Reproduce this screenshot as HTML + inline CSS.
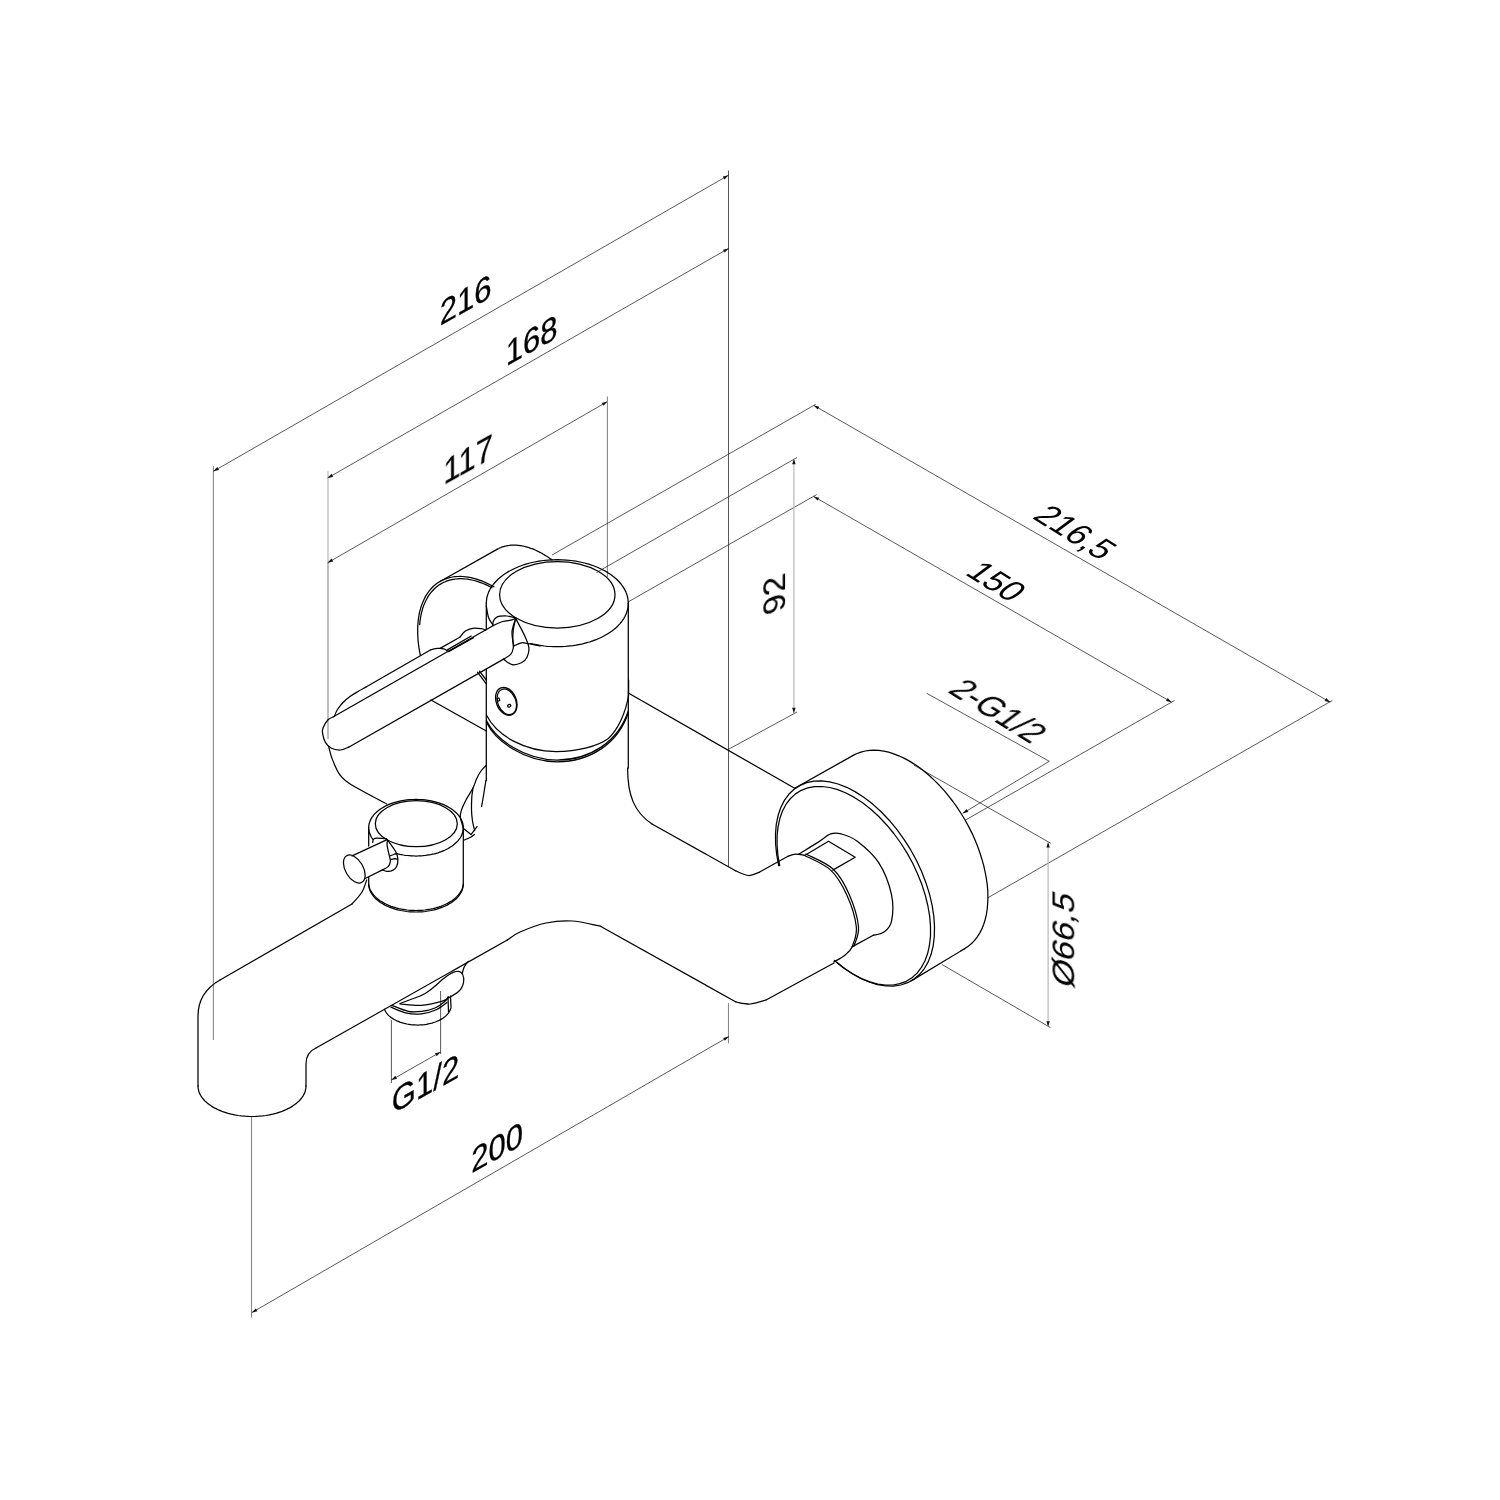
<!DOCTYPE html>
<html><head><meta charset="utf-8"><style>
html,body{margin:0;padding:0;background:#fff;}
svg{display:block;}
.o{fill:none;stroke:#000;stroke-width:1.25;stroke-linejoin:round;stroke-linecap:round;}
.d{fill:none;stroke:#222;stroke-width:0.75;}
.dl{fill:none;stroke:#b8b8b8;stroke-width:1.2;}
.dm{fill:none;stroke:#888;stroke-width:1.1;}
.ar{fill:#111;stroke:none;}
text{font-family:"Liberation Sans",sans-serif;fill:#000;}
text.sk{stroke:#000;stroke-width:0.3;}
.tx{opacity:0.995;will-change:transform;}
</style></head><body>
<svg width="1500" height="1500" viewBox="0 0 1500 1500">
<rect width="1500" height="1500" fill="#fff"/>
<polyline class="dm" points="213.4,466 213.4,1040"/>
<polyline class="d" points="728.5,170.5 728.5,867"/>
<polyline class="dm" points="728.5,1003 728.5,1043.4"/>
<polyline class="d" points="213.4,471.3 728.4,175.3"/>
<polygon class="ar" points="213.4,471.3 217.3,467.1 219,470"/>
<polygon class="ar" points="728.4,175.3 724.5,179.5 722.8,176.6"/>
<polyline class="dl" points="328,471.2 328,563"/>
<polyline class="dm" points="328,563 328,739"/>
<polyline class="d" points="327.6,478 728.6,248.4"/>
<polygon class="ar" points="327.6,478 331.5,473.8 333.2,476.7"/>
<polygon class="ar" points="728.6,248.4 724.7,252.6 723,249.7"/>
<polyline class="d" points="327.6,562.8 607.4,401.6"/>
<polygon class="ar" points="327.6,562.8 331.5,558.6 333.2,561.5"/>
<polygon class="ar" points="607.4,401.6 603.5,405.8 601.8,402.9"/>
<polyline class="dm" points="607.4,396.6 607.4,577"/>
<polyline class="d" points="552,555 815.6,404.4"/>
<polyline class="d" points="813.8,405.4 1330.2,702.2"/>
<polygon class="ar" points="813.8,405.4 819.4,406.7 817.7,409.6"/>
<polygon class="ar" points="1330.2,702.2 1324.6,700.9 1326.3,698"/>
<polyline class="d" points="1332.4,700.4 988,897.7"/>
<polyline class="d" points="628,602 816.6,494.6"/>
<polyline class="d" points="813.6,496.4 1171.6,702.2"/>
<polygon class="ar" points="813.6,496.4 819.2,497.7 817.5,500.6"/>
<polygon class="ar" points="1171.6,702.2 1166,700.9 1167.7,698"/>
<polyline class="d" points="1174.6,700.4 965.3,820.2"/>
<polyline class="d" points="596.5,572.5 797,457.5"/>
<polyline class="d" points="728.5,749.3 797,712"/>
<polyline class="dl" points="793.9,458.7 793.9,713.3"/>
<polygon class="ar" points="793.9,458.7 795.6,464.2 792.2,464.2"/>
<polygon class="ar" points="793.9,713.3 792.2,707.8 795.6,707.8"/>
<polyline class="d" points="926.7,693.3 1049.3,761.3 962.7,813.3"/>
<polygon class="ar" points="962.7,813.3 966.5,809 968.3,811.9"/>
<polyline class="d" points="914,765.2 1050.8,843.3"/>
<polyline class="d" points="941.8,964.4 1050.3,1027.5"/>
<polyline class="dl" points="1048.1,842 1048.1,1026.7"/>
<polygon class="ar" points="1048.1,842 1049.8,847.5 1046.4,847.5"/>
<polygon class="ar" points="1048.1,1026.7 1046.4,1021.2 1049.8,1021.2"/>
<polyline class="dm" points="251.5,1117 251.5,1317.6"/>
<polyline class="d" points="251.8,1312.6 728.8,1036.6"/>
<polygon class="ar" points="251.8,1312.6 255.7,1308.4 257.4,1311.3"/>
<polygon class="ar" points="728.8,1036.6 724.9,1040.8 723.2,1037.9"/>
<polyline class="d" points="391.4,1020 391.4,1083"/>
<polyline class="d" points="440.6,991 440.6,1054"/>
<polyline class="d" points="391.4,1080 440.6,1052"/>
<polygon class="ar" points="391.4,1080 395.3,1075.8 397,1078.8"/>
<polygon class="ar" points="440.6,1052 436.7,1056.2 435,1053.2"/>
<g class="tx">
<text class="sk" transform="matrix(0.9 -0.5 0 1 465.6 311.5)" font-size="34.5" text-anchor="middle">216</text>
<text class="sk" transform="matrix(0.9 -0.5 0 1 531.7 352)" font-size="34.5" text-anchor="middle">168</text>
<text class="sk" transform="matrix(0.9 -0.5 0 1 468.1 471.3)" font-size="34.5" text-anchor="middle">117</text>
<text class="sk" transform="matrix(0.9 -0.5 0 1 497.2 1159.1)" font-size="34.5" text-anchor="middle">200</text>
<text class="sk" transform="matrix(0.9 -0.5 0 1 425.5 1095.5)" font-size="34.5" text-anchor="middle">G1/2</text>
<text transform="matrix(0.8 0.5 -0.8 0.6 987 588.5)" font-size="34.5" text-anchor="middle">150</text>
<text transform="matrix(0.8 0.5 -0.8 0.6 1065.8 539.2)" font-size="34.5" text-anchor="middle">216,5</text>
<text transform="matrix(0.8 0.5 -0.8 0.6 988.8 718)" font-size="34.5" text-anchor="middle">2-G1/2</text>
<text transform="matrix(0 -1 0.9 -0.3 785.5 590.8)" font-size="34.5" text-anchor="middle">92</text>
<text transform="matrix(0 -1 0.9 0.3 1074.7 942.8)" font-size="34.5" text-anchor="middle">&#216;66,5</text>
</g>
<polyline class="o" points="486.3,603.2 486.5,600.4 486.9,597.5 487.7,594.7 488.7,591.9 490.1,589.2 491.7,586.6 493.6,584 495.8,581.5 498.3,579 501,576.7 503.9,574.5 507.1,572.4 510.5,570.5 514.1,568.7 517.9,567 521.8,565.5 525.9,564.2 530.1,563 534.5,562 538.9,561.2 543.4,560.5 548,560.1 552.7,559.8 557.3,559.7 561.9,559.8 566.6,560.1 571.2,560.5 575.7,561.2 580.1,562 584.5,563 588.7,564.2 592.8,565.5 596.7,567 600.5,568.7 604.1,570.5 607.5,572.4 610.7,574.5 613.6,576.7 616.3,579 618.8,581.5 621,584 622.9,586.6 624.5,589.2 625.9,591.9 626.9,594.7 627.7,597.5 628.1,600.4 628.3,603.2"/>
<polyline class="o" points="628.3,603.2 628.2,605 628.1,606.7 627.8,608.5 627.4,610.3 626.8,612 626.2,613.7 625.4,615.4 624.6,617.1 623.6,618.8 622.5,620.4 621.3,622 620,623.6 618.6,625.2 617.1,626.7 615.5,628.2 613.8,629.6 612,631 610.1,632.3 608.1,633.6 606,634.8 603.9,636 601.7,637.2 599.4,638.2 597,639.3 594.6,640.2 592.1,641.1 589.5,642 586.9,642.7 584.3,643.4 581.6,644.1 578.8,644.6 576.1,645.2 573.3,645.6 570.4,645.9 567.6,646.2 564.7,646.5 561.8,646.6 559,646.7 556.1,646.7 553.2,646.6 550.3,646.5 547.4,646.3 544.6,646 541.7,645.6 538.9,645.2 536.1,644.7 533.4,644.2 530.7,643.5"/>
<ellipse class="o" cx="557.3" cy="594.8" rx="57.7" ry="33.2" transform="rotate(0 557.3 594.8)"/>
<polyline class="o" points="486.3,603 486.3,628.6"/>
<polyline class="o" points="628.3,603 628.3,768"/>
<polyline class="o" points="486.3,669.3 486.3,780.5"/>
<path class="o" d="M486.4,715 C497,736 525,751.5 556,751.5 C578,751.5 598,746 608,738.7 C618,730 626,712 628.6,695 L628.6,680"/>
<path class="o" d="M486.4,720.5 C496,740 525,760 557,760 C590,760 618,742 628.3,711"/>
<path class="o" d="M486.4,722.2 C496,741.7 525,761.8 557,761.8 C590,761.8 618,743.7 628.3,712.7"/>
<path class="o" d="M515.5,618.1 C517.1,621.2 522.9,631.7 525.1,636.7 C527.3,641.7 528.6,644.5 528.9,647.9 C529.2,651.3 528.2,654.7 527,657.2 C525.8,659.7 523.9,661.5 521.4,662.8 C518.9,664 515,665.3 512,664.7 C509,664.1 505,660 503.6,659.1"/>
<path class="o" d="M515.8,618 C515.2,620.3 512.3,627.3 512,632 C511.7,636.7 513.6,643.7 513.9,646"/>
<path class="o" d="M513.9,646 C515.1,645.5 519.1,643.2 521.4,642.8 C523.7,642.4 524.8,643.2 527.9,643.7 C531,644.2 538,645.6 540,646"/>
<path class="o" d="M492.8,625.5 C492.9,624.7 492.8,622.2 493.4,620.9 C494,619.6 495.2,618.3 496.3,617.5 C497.4,616.7 498.2,616.5 500,616.2 C501.8,616 504.4,615.7 507,616 C509.6,616.3 514.3,617.7 515.8,618"/>
<path class="o" d="M486.3,605.9 C486.7,607.9 487.5,614.7 488.7,618 C489.9,621.3 492.6,624.2 493.4,625.5"/>
<polyline class="o" points="333.4,716.8 493.4,625.5"/>
<path class="o" d="M493.4,625.5 C494.9,624.8 499.6,622.4 502.7,621.5 C505.8,620.6 509.8,620.5 512,619.9 C514.2,619.3 515.2,618.3 515.8,618"/>
<path class="o" d="M334.2,716.5 C334.8,715.3 336,711.8 337.5,709.5 C339,707.2 340.9,704.7 343,702.5 C345.1,700.3 347.5,698.3 350,696.5 C352.5,694.7 355.3,693.1 358,691.5 C360.7,689.9 364.7,687.8 366,687"/>
<polyline class="o" points="366,687 430.8,649.8"/>
<path class="o" d="M430.8,649.8 C431.9,649.6 435.1,648.6 437.3,648.4 C439.5,648.2 442.2,648.3 443.9,648.8 C445.6,649.3 447,650.8 447.6,651.2"/>
<polyline class="o" points="440.1,648.4 459.8,637.2"/>
<path class="o" d="M459.8,637.2 C460.7,636.2 463.2,632.6 465.4,631.1 C467.6,629.6 470.2,628.7 472.8,628.3 C475.4,627.9 479,628.4 481.2,628.7 C483.4,629 485.1,629.9 485.9,630.1"/>
<polyline class="o" points="447.3,649.9 471.2,636"/>
<polyline class="o" points="448.6,651.6 473.5,637.8"/>
<path class="o" d="M333.4,716.8 C332.5,717.3 329.5,718.1 327.8,720 C326.1,721.9 323.9,725.7 323,728 C322.1,730.3 322.2,731.2 322.6,733.6 C323,736 324,740 325.4,742.4 C326.8,744.8 328.5,746.7 331,748 C333.5,749.3 337.7,750.1 340.6,750 C343.5,749.9 347.3,747.7 348.6,747.2"/>
<polyline class="o" points="348.6,747.2 503.6,659.1"/>
<path class="o" d="M503.6,659.1 C504.8,658.3 509.1,656.2 510.7,654.4 C512.3,652.5 512.9,650.3 513.3,648 C513.6,645.7 512.8,643.5 512.8,640.5 C512.8,637.5 512.8,633.4 513.3,629.9 C513.8,626.4 515.1,621 515.5,619.2"/>
<polyline class="o" points="477.5,672.2 485.9,683.4"/>
<polyline class="o" points="479.5,671.2 486.3,680"/>
<polyline class="o" points="420.3,655.2 419.6,651.5 419,647.9 418.5,644.3 418.1,640.8 417.9,637.2 417.7,633.8 417.7,630.4 417.7,627.1 417.9,623.8 418.2,620.7 418.6,617.6 419.1,614.5 419.7,611.6 420.5,608.8 421.3,606 422.3,603.4 423.3,600.9 424.5,598.4 425.7,596.1 427.1,593.9 428.5,591.8 430.1,589.9 431.7,588 433.4,586.3 435.2,584.8 437.1,583.3 439.1,582 441.2,580.8 443.3,579.8 445.5,578.9 447.8,578.1 450.2,577.5 452.6,577 455.1,576.7 457.6,576.5 460.2,576.4 462.8,576.5 465.5,576.8 468.3,577.1 471,577.7 473.8,578.3 476.6,579.1 479.5,580.1 482.4,581.2 485.2,582.4 488.1,583.7 491.1,585.2 494,586.8"/>
<polyline class="o" points="419.7,624.6 419.9,622.1 420.2,619.7 420.6,617.3 421,615 421.5,612.8 422.1,610.6 422.7,608.4 423.4,606.3 424.2,604.3 425,602.4 425.9,600.5 426.9,598.7 427.9,596.9 429,595.2 430.1,593.6 431.3,592.1 432.6,590.7 433.9,589.3 435.3,588 436.7,586.8 438.2,585.6 439.7,584.6 441.3,583.6 442.9,582.7 444.6,582 446.3,581.2 448,580.6 449.8,580.1 451.7,579.6 453.6,579.3 455.5,579 457.5,578.8 459.4,578.7 461.5,578.7 463.5,578.8 465.6,579 467.7,579.2 469.8,579.6 472,580 474.2,580.5 476.4,581.1 478.6,581.8 480.8,582.6 483,583.5 485.3,584.4 487.5,585.4 489.8,586.6 492,587.8"/>
<polyline class="o" points="440,581.5 497,549.4"/>
<polyline class="o" points="497,549.4 497.9,548.9 498.8,548.5 499.7,548 500.7,547.6 501.6,547.2 502.6,546.9 503.6,546.6 504.6,546.3 505.6,546 506.7,545.8 507.7,545.6 508.8,545.5 509.8,545.3 510.9,545.2 512,545.2 513.1,545.1 514.2,545.1 515.4,545.1 516.5,545.2 517.7,545.3 518.8,545.4 520,545.6 521.2,545.7 522.4,546 523.5,546.2 524.7,546.5 526,546.8 527.2,547.1 528.4,547.5 529.6,547.9 530.8,548.3 532.1,548.7 533.3,549.2 534.5,549.7 535.8,550.3 537,550.9 538.3,551.5 539.5,552.1 540.8,552.8 542,553.4 543.3,554.2 544.6,554.9 545.8,555.7 547.1,556.5 548.3,557.3 549.6,558.2 550.8,559 552,559.9"/>
<ellipse class="o" cx="506.3" cy="701.3" rx="10" ry="14.5" transform="rotate(-22 506.3 701.3)"/>
<ellipse class="o" cx="506.8" cy="701.8" rx="9" ry="13.3" transform="rotate(-22 506.8 701.8)"/>
<ellipse class="o" cx="498.4" cy="699.5" rx="1.2" ry="1.6" transform="rotate(-20 498.4 699.5)"/>
<ellipse class="o" cx="509.2" cy="705.8" rx="1.6" ry="1.3" transform="rotate(-20 509.2 705.8)"/>
<path class="o" d="M328.6,746.4 C329.3,748.7 330.7,755.2 332.6,760 C334.5,764.8 336.9,770.9 340,775 C343.1,779.1 343.5,780 351.3,784.8 C359.1,789.6 380.8,800.8 386.7,804"/>
<polyline class="o" points="431,700 486.3,731"/>
<path class="o" d="M486,765.5 C485.2,766.4 482.6,768.8 481,771 C479.4,773.2 477.8,776.2 476.5,779 C475.2,781.8 474.8,784.5 473,788 C471.2,791.5 467.9,796.3 466,800 C464.1,803.7 462.4,807.2 461.5,810 C460.6,812.8 460,813.9 460.3,817 C460.6,820.1 463,826.6 463.5,828.5"/>
<path class="o" d="M473,788 C472.8,789.5 472.1,793.3 471.8,797 C471.6,800.7 471.4,806 471.5,810 C471.6,814 472,817.5 472.5,821 C473,824.5 474.3,829.1 474.7,830.7"/>
<path class="o" d="M485.9,780.5 C485.5,782.9 484.3,790.6 483.6,795 C482.9,799.4 481.9,804.8 481.6,806.7"/>
<polyline class="o" points="463.5,828.5 471,834.5 477,826.5"/>
<path class="o" d="M464.5,840 C465.6,839.5 469.3,837.9 471,837 C472.7,836.1 473.9,834.9 474.5,834.5"/>
<polyline class="o" points="368.7,827.7 368.8,825.8 369.1,824 369.6,822.2 370.3,820.4 371.2,818.6 372.3,816.9 373.6,815.2 375,813.6 376.7,812 378.5,810.5 380.4,809 382.6,807.7 384.8,806.4 387.2,805.2 389.7,804.2 392.3,803.2 395.1,802.3 397.9,801.6 400.8,800.9 403.8,800.4 406.8,799.9 409.8,799.6 412.9,799.5 416,799.4 419.1,799.5 422.2,799.6 425.2,799.9 428.2,800.4 431.2,800.9 434.1,801.6 436.9,802.3 439.6,803.2 442.3,804.2 444.8,805.2 447.2,806.4 449.4,807.7 451.6,809 453.5,810.5 455.3,812 457,813.6 458.4,815.2 459.7,816.9 460.8,818.6 461.7,820.4 462.4,822.2 462.9,824 463.2,825.8 463.3,827.7"/>
<polyline class="o" points="463.3,827.7 463.3,828.9 463.1,830.1 462.9,831.2 462.6,832.4 462.3,833.6 461.8,834.7 461.3,835.9 460.7,837 460,838.1 459.2,839.2 458.4,840.3 457.5,841.3 456.5,842.3 455.4,843.3 454.3,844.3 453.1,845.3 451.8,846.2 450.5,847 449.1,847.9 447.7,848.7 446.2,849.5 444.7,850.2 443.1,850.9 441.4,851.6 439.7,852.2 438,852.8 436.2,853.3 434.4,853.8 432.6,854.2 430.7,854.6 428.8,854.9 426.9,855.2 425,855.5 423,855.7 421.1,855.8 419.1,855.9 417.1,856 415.1,856 413.2,855.9 411.2,855.9 409.2,855.7 407.3,855.5 405.3,855.3 403.4,855 401.5,854.6 399.7,854.3 397.8,853.8 396,853.3"/>
<polyline class="o" points="373.1,839.7 373,839.4 372.8,839.2 372.6,839 372.4,838.7 372.3,838.5 372.1,838.2 371.9,838 371.8,837.8 371.6,837.5 371.5,837.3 371.4,837 371.2,836.8 371.1,836.6 370.9,836.3 370.8,836.1 370.7,835.8 370.6,835.6 370.4,835.3 370.3,835.1 370.2,834.8 370.1,834.6 370,834.3 369.9,834.1 369.8,833.8 369.7,833.6 369.6,833.3 369.6,833.1 369.5,832.8 369.4,832.6 369.3,832.3 369.3,832.1 369.2,831.8 369.1,831.5 369.1,831.3 369,831 369,830.8 368.9,830.5 368.9,830.3 368.9,830 368.8,829.8 368.8,829.5 368.8,829.2 368.7,829 368.7,828.7 368.7,828.5 368.7,828.2 368.7,828 368.7,827.7"/>
<ellipse class="o" cx="416.3" cy="823.7" rx="41" ry="23" transform="rotate(0 416.3 823.7)"/>
<polyline class="o" points="368.7,829 368.7,846"/>
<polyline class="o" points="463.3,828 463.3,884"/>
<polyline class="o" points="368.7,877 368.7,884"/>
<polyline class="o" points="463.3,884 463.2,885.8 462.9,887.7 462.4,889.5 461.7,891.2 460.8,893 459.7,894.7 458.4,896.4 457,898 455.3,899.6 453.5,901 451.6,902.5 449.4,903.8 447.2,905.1 444.8,906.2 442.3,907.3 439.6,908.2 436.9,909.1 434.1,909.9 431.2,910.5 428.2,911 425.2,911.5 422.2,911.8 419.1,911.9 416,912 412.9,911.9 409.8,911.8 406.8,911.5 403.8,911 400.8,910.5 397.9,909.9 395.1,909.1 392.4,908.2 389.7,907.3 387.2,906.2 384.8,905.1 382.6,903.8 380.4,902.5 378.5,901 376.7,899.6 375,898 373.6,896.4 372.3,894.7 371.2,893 370.3,891.2 369.6,889.5 369.1,887.7 368.8,885.8 368.7,884"/>
<polyline class="o" points="463.1,884.9 462.8,886.7 462.3,888.4 461.6,890 460.7,891.7 459.6,893.3 458.4,894.9 457,896.4 455.5,897.9 453.8,899.3 452,900.7 450,901.9 448,903.1 445.7,904.3 443.4,905.3 441,906.3 438.4,907.1 435.8,907.9 433.1,908.6 430.4,909.2 427.6,909.6 424.7,910 421.8,910.3 418.9,910.4 416,910.5 413.1,910.4 410.2,910.3 407.3,910 404.4,909.6 401.6,909.2 398.9,908.6 396.2,907.9 393.6,907.1 391,906.3 388.6,905.3 386.3,904.3 384,903.1 382,901.9 380,900.7 378.2,899.3 376.5,897.9 375,896.4 373.6,894.9 372.4,893.3 371.3,891.7 370.4,890 369.7,888.4 369.2,886.7 368.9,884.9"/>
<ellipse class="o" cx="354.3" cy="869" rx="15.3" ry="8.9" transform="rotate(60 354.3 869)"/>
<polyline class="o" points="352.1,855.9 387.1,839.6"/>
<polyline class="o" points="365.7,878.3 382.5,869.9"/>
<path class="o" d="M382.5,869.9 C383.4,869.4 386.8,868.2 388.1,866.7 C389.4,865.2 390.2,862.8 390.4,861.1 C390.6,859.4 390.1,859 389.5,856.4 C388.9,853.8 387.4,847.9 387.1,845.2 C386.8,842.5 387.5,841 387.6,840.1"/>
<path class="o" d="M387.6,840.1 C389,842.1 394.3,848.9 396,852.2 C397.7,855.5 397.8,857.3 397.9,859.7 C398,862.1 397.4,864.9 396.5,866.7 C395.6,868.5 394.3,869.6 392.7,870.4 C391.1,871.2 388.4,871.4 386.7,871.3 C385,871.2 383.2,870.1 382.5,869.9"/>
<path class="o" d="M389.5,855.9 C390.2,855.7 392.5,854.9 393.7,854.5 C394.9,854.1 396.4,853.8 396.9,853.6"/>
<path class="o" d="M390.4,859.7 C391.2,859.5 393.9,858.8 395.1,858.7 C396.3,858.7 397,859.3 397.4,859.4"/>
<path class="o" d="M372.7,842.4 C372.9,841.9 372.8,839.8 373.6,839.1 C374.4,838.4 375.1,838.3 377.3,838.2 C379.5,838.1 385.1,838.6 386.7,838.7"/>
<path class="o" d="M366.7,880 C365.9,882 364.4,888 362,892 C359.6,896 353.7,902 352,904"/>
<polyline class="o" points="352,904 220,980"/>
<path class="o" d="M220,980 C206,988 198,1000 198,1016 L198,1086"/>
<polyline class="o" points="306,1086 305.9,1088 305.5,1090 305,1092 304.2,1093.9 303.1,1095.8 301.9,1097.7 300.4,1099.5 298.8,1101.2 296.9,1102.9 294.8,1104.6 292.6,1106.1 290.2,1107.6 287.6,1108.9 284.9,1110.2 282,1111.4 279,1112.4 275.9,1113.4 272.7,1114.2 269.4,1114.9 266,1115.5 262.5,1115.9 259,1116.2 255.5,1116.4 252,1116.5 248.5,1116.4 245,1116.2 241.5,1115.9 238,1115.5 234.6,1114.9 231.3,1114.2 228.1,1113.4 225,1112.4 222,1111.4 219.1,1110.2 216.4,1108.9 213.8,1107.6 211.4,1106.1 209.2,1104.6 207.1,1102.9 205.2,1101.2 203.6,1099.5 202.1,1097.7 200.9,1095.8 199.8,1093.9 199,1092 198.5,1090 198.1,1088 198,1086"/>
<path class="o" d="M306,1086 L306,1064 C306,1056 309,1051 316,1048"/>
<polyline class="o" points="316,1048 507.3,940"/>
<path class="o" d="M507.3,940 C509.4,938.7 513.5,934.8 520,932 C526.5,929.2 537.3,924.8 546,923 C554.7,921.2 563,920.5 572,921 C581,921.5 595.3,925.2 600,926"/>
<polyline class="o" points="600,926 736,1002"/>
<path class="o" d="M736,1002 C738.3,1002.3 745,1004.3 750,1004 C755,1003.7 763.3,1000.7 766,1000"/>
<polyline class="o" points="766,1000 834,963"/>
<polyline class="o" points="451,1007.8 450.6,1008.9 450.2,1010.1 449.6,1011.2 449,1012.3 448.2,1013.3 447.3,1014.4 446.4,1015.4 445.3,1016.4 444.1,1017.3 442.9,1018.2 441.5,1019.1 440.1,1019.9 438.6,1020.6 437,1021.3 435.4,1022 433.7,1022.5 432,1023.1 430.2,1023.5 428.3,1023.9 426.4,1024.3 424.5,1024.6 422.6,1024.8 420.6,1024.9 418.7,1025 416.7,1025 414.8,1024.9 412.8,1024.8 410.9,1024.6 408.9,1024.3 407.1,1024 405.2,1023.6 403.4,1023.2 401.6,1022.7 399.9,1022.1 398.3,1021.4 396.7,1020.8 395.2,1020 393.7,1019.2 392.4,1018.4 391.1,1017.5 389.9,1016.6 388.8,1015.6 387.8,1014.6 387,1013.6 386.2,1012.5 385.5,1011.4 384.9,1010.3 384.4,1009.2"/>
<polyline class="o" points="448,997 448.5,1012"/>
<polyline class="o" points="450.5,996 451,1007"/>
<path class="o" d="M391.7,1005.3 C394.5,1006.3 403.3,1010.3 408.3,1011.3 C413.3,1012.3 417.2,1011.8 421.7,1011.3 C426.1,1010.8 431,1009.8 435,1008 C439,1006.2 443.5,1002.6 445.7,1000.7 C447.9,998.8 447.9,997.4 448.3,996.7"/>
<path class="o" d="M391,1007.2 C393.7,1008.2 401.9,1012.1 407,1013.2 C412.1,1014.3 416.8,1014.4 421.7,1013.8 C426.6,1013.2 432.1,1011.7 436.3,1009.8 C440.5,1007.9 445.2,1003.7 447,1002.5"/>
<path class="o" d="M400,1003.5 C402,1002.8 408.1,1000.5 412,999 C415.9,997.5 419.8,996.4 423.3,994.5 C426.9,992.6 430,990.1 433.3,987.5 C436.6,984.9 440.2,981.2 443,979 C445.8,976.8 447.8,975.2 450,974 C452.2,972.8 454.2,971.8 456,971.5 C457.8,971.2 459.7,971.2 461,972.3 C462.3,973.4 463.4,975.7 463.7,978 C463.9,980.3 463.4,983.7 462.5,986 C461.6,988.3 460.4,990 458,992 C455.6,994 451,996.5 448.3,998 C445.6,999.5 446.1,1000.1 441.7,1001.3 C437.3,1002.5 428.6,1004.8 421.7,1005.3 C414.8,1005.8 403.6,1004.2 400,1004"/>
<path class="o" d="M462.3,973.3 C462.6,972.2 463.3,968.7 464.3,966.7 C465.3,964.7 467.6,962.2 468.3,961.3"/>
<polyline class="o" points="628.3,693 794.7,788.3"/>
<path class="o" d="M627.6,768 C627.6,795 634,812 652,824"/>
<polyline class="o" points="652,824 736,871"/>
<path class="o" d="M736,871 C738.1,871.8 744.6,875.3 748.5,875.5 C752.4,875.7 757.4,872.8 759.2,872.3"/>
<polyline class="o" points="759.2,872.3 788,856.3"/>
<path class="o" d="M788,856.3 C789.2,855.9 792.8,854.3 795.5,854.1 C798.2,853.9 802.6,855 804,855.2"/>
<path class="o" d="M804,855.2 C808.5,857.7 823.6,863.5 830.7,870.1 C837.8,876.7 842.4,885.3 846.7,894.7 C851,904.1 855.4,918 856.3,926.7 C857.2,935.4 854,942.1 852,946.9 C850,951.7 847.5,953 844.5,955.5 C841.5,958 835.7,960.8 833.9,961.9"/>
<path class="o" d="M806,854 C810.5,856.5 825.8,862.3 833,869 C840.2,875.7 844.8,884.4 849,894 C853.2,903.6 857.7,918 858.5,926.7 C859.3,935.4 854.8,942.8 854,946"/>
<path class="o" d="M798.7,854.1 C801.9,852.1 812.6,845.8 817.9,842.4 C823.2,839 826.8,835.3 830.7,833.9 C834.6,832.5 836.9,832.7 841.3,833.9 C845.7,835.1 851.1,836.5 857.3,841.3 C863.5,846.1 873,853.8 878.7,862.7 C884.4,871.6 889.4,884.9 891.5,894.7 C893.6,904.5 892.8,915.1 891.5,921.3 C890.2,927.5 887,929.7 884,932 C881,934.3 875.1,934.7 873.3,935.2"/>
<polyline class="o" points="873.3,935.2 852,946.9"/>
<polyline class="o" points="805.1,855.2 828.5,841.3 855.2,857.3 832.8,870.1"/>
<polyline class="o" points="778.7,865.6 776.7,854.6 775.6,844 775.5,833.9 776.3,824.3 778.1,815.5 780.8,807.5 784.4,800.4 788.8,794.3 794.1,789.3 800.1,785.4 806.7,782.6 813.9,781.1 821.6,780.8 829.7,781.8 838.1,784 846.7,787.3 855.4,791.9 864.1,797.5 872.7,804.1 881.1,811.7 889.2,820.2 896.8,829.4 904,839.3 910.6,849.7 916.5,860.5 921.6,871.6 926,882.9 929.5,894.1 932.1,905.2 933.8,916.1 934.5,926.5 934.3,936.5 933.2,945.8 931.1,954.3 928.1,962.1 924.2,968.8 919.4,974.6 913.9,979.2 907.7,982.7 900.9,985 893.5,986.1 885.7,986 877.4,984.6 869,982 860.3,978.2 851.6,973.3 842.9,967.4 834.4,960.4"/>
<polyline class="o" points="779.7,865.7 777.9,855.3 777.1,845.2 777.1,835.6 778.1,826.6 779.9,818.3 782.6,810.8 786.1,804.2 790.5,798.5 795.5,793.9 801.3,790.3 807.7,787.9 814.6,786.6 822,786.5 829.7,787.5 837.7,789.7 846,793 854.3,797.4 862.6,802.8 870.8,809.2 878.8,816.5 886.5,824.7 893.8,833.5 900.7,843 907,852.9 912.7,863.2 917.6,873.9 921.9,884.6 925.3,895.4 927.9,906 929.7,916.4 930.5,926.5 930.5,936 929.5,945 927.7,953.3 925,960.8 921.4,967.4 917.1,973.1 912,977.7 906.3,981.3 899.9,983.7 893,985 885.6,985.1 877.8,984.1 869.8,981.9 861.6,978.6 853.3,974.2 845,968.7 836.8,962.3"/>
<polyline class="o" points="794.7,788.3 853.2,755.4"/>
<polyline class="o" points="853.2,755.4 857,753.5 861,752.1 865.2,751 869.6,750.4 874.2,750.2 878.9,750.4 883.7,751.1 888.6,752.2 893.7,753.8 898.8,755.8 903.9,758.1 909.1,760.9 914.2,764.1 919.4,767.6 924.5,771.5 929.5,775.8 934.4,780.4 939.3,785.3 944,790.4 948.5,795.9 952.9,801.5 957.1,807.4 961.1,813.5 964.9,819.8 968.4,826.1 971.7,832.6 974.7,839.2 977.4,845.8 979.8,852.5 981.9,859.2 983.8,865.8 985.2,872.4 986.4,878.8 987.3,885.2 987.8,891.4 987.9,897.5 987.7,903.3 987.2,909 986.4,914.4 985.2,919.5 983.7,924.3 981.9,928.9 979.7,933.1 977.3,936.9 974.6,940.4 971.6,943.5 968.3,946.2 964.8,948.6"/>
<polyline class="o" points="911.2,980.9 964.8,948.6"/>
</svg></body></html>
